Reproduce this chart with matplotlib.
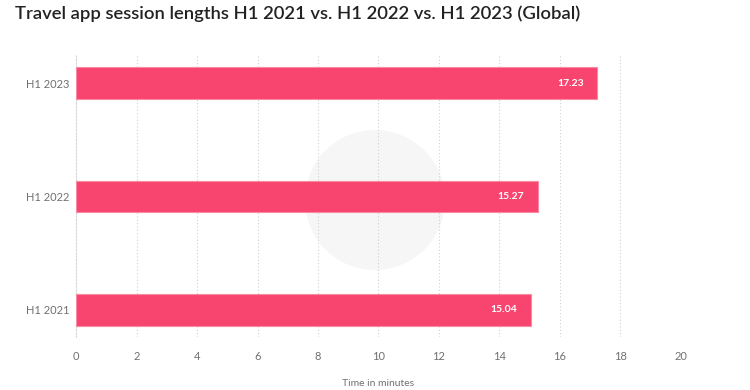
import matplotlib
matplotlib.use("Agg")
import matplotlib.pyplot as plt
from matplotlib.patches import Circle

categories = ["H1 2021", "H1 2022", "H1 2023"]
values = [15.04, 15.27, 17.23]
xticks = [0, 2, 4, 6, 8, 10, 12, 14, 16, 18, 20]

plt.rcParams['font.family'] = ['Lato', 'DejaVu Sans']

fig = plt.figure(figsize=(7.5, 3.9), dpi=100)
fig.patch.set_facecolor("white")

ax = fig.add_axes([76/750, 1 - 337/390, (681 - 76)/750, (337 - 55)/390])
ax.set_facecolor("none")
ax.set_axisbelow(False)

# faint watermark circle behind the data
wm = Circle((375, 390 - 200), 70, transform=None, facecolor="#f6f6f6", edgecolor="none", zorder=0.1)
ax.add_artist(wm)

ypos = list(range(len(categories)))
bars = ax.barh(ypos, values, height=0.28, color="#F7456F", edgecolor="#F98AA3", linewidth=0.8, zorder=3)
for b, v in zip(bars, values):
    ax.text(v - 0.45, b.get_y() + b.get_height() / 2, f"{v:.2f}", ha="right", va="center",
            color="white", fontsize=7.5, fontweight="bold", zorder=4)

ax.set_xlim(0, 20)
ax.set_ylim(-0.24, 2.25)
ax.set_yticks(ypos)
ax.set_yticklabels(categories)
ax.set_xticks(xticks)
ax.tick_params(axis="both", length=0, colors="#707070", labelsize=8)
ax.tick_params(axis="x", pad=10)
ax.tick_params(axis="y", pad=5)

ax.grid(axis="x", linestyle=(0, (1, 2)), color="#d0d0d0", linewidth=0.8)
ax.grid(axis="y", visible=False)
for s in ["top", "right", "bottom"]:
    ax.spines[s].set_visible(False)
ax.spines["left"].set_color("#e6e6e6")
ax.spines["left"].set_linewidth(0.8)

ax.set_xlabel("Time in minutes", fontsize=7.5, color="#707070", labelpad=12)

fig.text(15/750, 1 - 14/390, "Travel app session lengths H1 2021 vs. H1 2022 vs. H1 2023 (Global)",
         ha="left", va="center", fontsize=13.3, fontweight="semibold", color="#222222")

fig.savefig("out.png", dpi=100, facecolor="white")
